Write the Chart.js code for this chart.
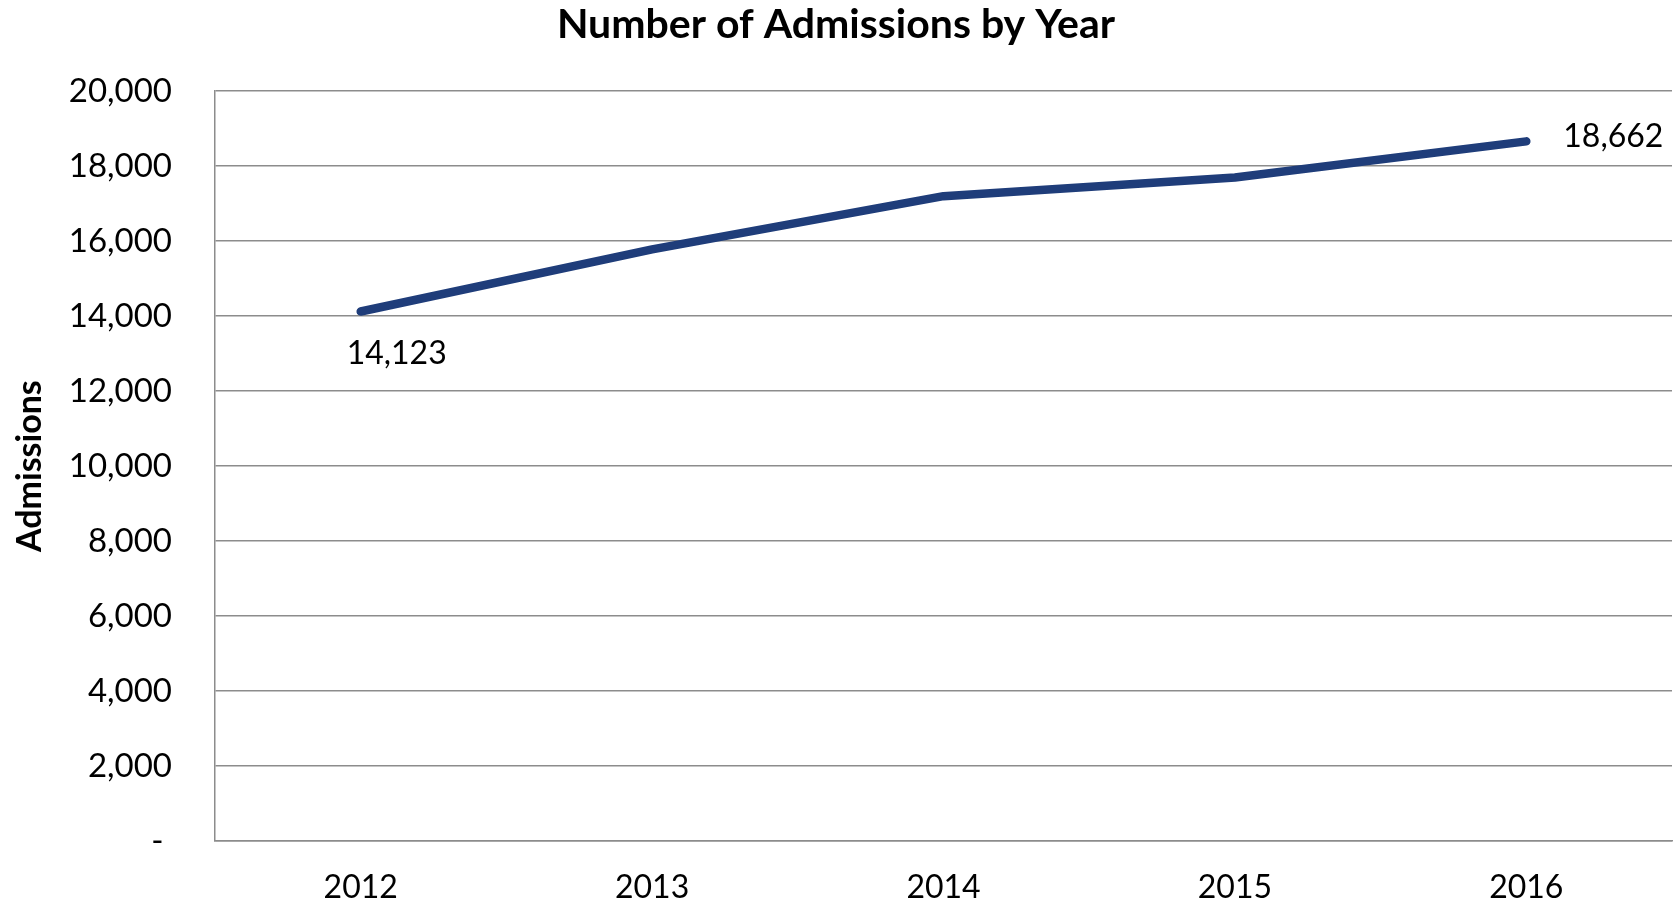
<!DOCTYPE html>
<html>
<head>
<meta charset="utf-8">
<script src="https://cdn.jsdelivr.net/npm/chart.js@4.4.1/dist/chart.umd.min.js"></script>
<style>
  html, body { margin: 0; padding: 0; background: #fff; }
  #wrap { width: 1680px; height: 904px; }
</style>
</head>
<body>
<div id="wrap"><canvas id="admissions-chart"></canvas></div>
<script>
// data
const years = ['2012', '2013', '2014', '2015', '2016'];
const admissions = [14123, 15780, 17200, 17700, 18662];
const yTicks = [0, 2000, 4000, 6000, 8000, 10000, 12000, 14000, 16000, 18000, 20000];

const FONT = 'Lato, "Open Sans", sans-serif';
const GRID = '#8c8c8c';

// labels only on first and last point, like the original
const endLabels = {
    id: 'endLabels',
    afterDatasetsDraw(chart) {
        const ctx = chart.ctx;
        const meta = chart.getDatasetMeta(0);
        const last = admissions.length - 1;
        ctx.save();
        ctx.font = '32px ' + FONT;
        ctx.fillStyle = '#000';
        ctx.textBaseline = 'middle';

        const p0 = meta.data[0];
        ctx.textAlign = 'center';
        ctx.fillText(admissions[0].toLocaleString('en-US'), p0.x + 36, p0.y + 42);

        const pN = meta.data[last];
        ctx.textAlign = 'left';
        ctx.fillText(admissions[last].toLocaleString('en-US'), pN.x + 37, pN.y - 5);
        ctx.restore();
    }
};

new Chart(document.getElementById('admissions-chart').getContext('2d'), {
    type: 'line',
    data: {
        labels: years,
        datasets: [{
            label: 'Admissions',
            data: admissions,
            borderColor: '#1f3d7a',
            borderWidth: 8.5,
            borderCapStyle: 'round',
            borderJoinStyle: 'round',
            pointRadius: 0,
            tension: 0,
            fill: false
        }]
    },
    options: {
        responsive: true,
        maintainAspectRatio: false,
        animation: false,
        layout: { padding: { left: 0, right: 8, top: 0, bottom: 0 } },
        scales: {
            x: {
                offset: true,
                afterFit: scale => { scale.height = 63; },
                grid: { display: false, drawTicks: false },
                border: { color: GRID, width: 1.5 },
                ticks: { color: '#000', font: { family: FONT, size: 32 }, padding: 27 }
            },
            y: {
                min: 0,
                max: 20000,
                afterBuildTicks: scale => { scale.ticks = yTicks.map(v => ({ value: v })); },
                afterFit: scale => { scale.width = 215; },
                grid: { color: GRID, lineWidth: 1.5, drawTicks: false },
                border: { color: GRID, width: 1.5 },
                ticks: {
                    color: '#000',
                    font: { family: FONT, size: 33 },
                    padding: 43,
                    callback: v => v === 0 ? '- ' : v.toLocaleString('en-US')
                },
                title: {
                    display: true,
                    text: 'Admissions',
                    color: '#000',
                    font: { family: FONT, size: 34, weight: 'bold' },
                    padding: { top: 10, bottom: 0 }
                }
            }
        },
        plugins: {
            legend: { display: false },
            tooltip: { enabled: false },
            title: {
                display: true,
                text: 'Number of Admissions by Year',
                color: '#000',
                font: { family: FONT, size: 41, weight: 'bold' },
                padding: { top: 0, bottom: 42 }
            }
        }
    },
    plugins: [endLabels]
});
</script>
</body>
</html>
